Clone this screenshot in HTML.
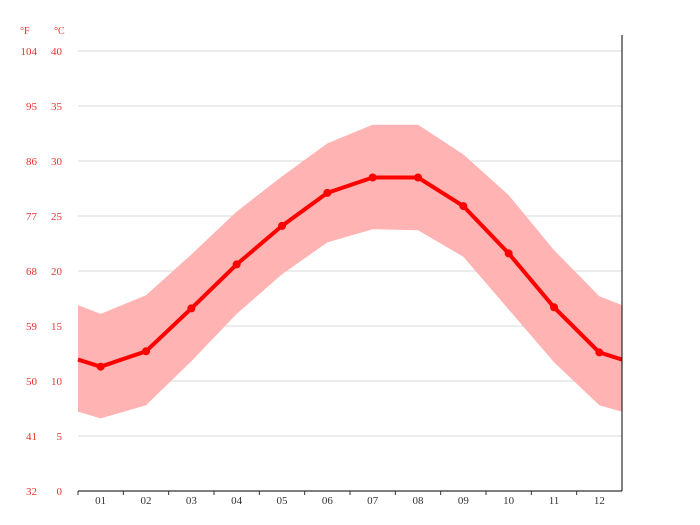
<!DOCTYPE html>
<html><head><meta charset="utf-8"><style>body{margin:0;background:#fff}svg{display:block}</style></head>
<body>
<svg id="c" width="700" height="525" xmlns="http://www.w3.org/2000/svg" font-family="'Liberation Serif', serif">
</svg>
<script>
const months=["01","02","03","04","05","06","07","08","09","10","11","12"];
const meanTemp=[11.3,12.7,16.6,20.6,24.1,27.1,28.5,28.5,25.9,21.6,16.7,12.6];
const maxTemp=[16.1,17.8,21.5,25.4,28.6,31.6,33.3,33.3,30.6,26.9,21.9,17.7];
const minTemp=[6.6,7.8,11.8,16.1,19.7,22.6,23.8,23.7,21.3,16.5,11.7,7.8];
const cTicks=[0,5,10,15,20,25,30,35,40];
const fTicks=[32,41,50,59,68,77,86,95,104];
const NS="http://www.w3.org/2000/svg",svg=document.getElementById('c');
const x0=78,x1=622,y0=491,pxC=11,step=(x1-x0)/12;
const X=i=>x0+step*(i+0.5),Y=v=>y0-v*pxC;
function mk(t,a,p){const e=document.createElementNS(NS,t);for(const k in a)e.setAttribute(k,a[k]);(p||svg).appendChild(e);return e;}
cTicks.forEach((c,i)=>{
 if(c>0){const g=mk('line',{x1:x0,x2:x1,y1:Y(c),y2:Y(c),stroke:'#d9d9d9','stroke-width':1});
 
 }
 const t=mk('text',{x:62,y:Y(c)+4,'text-anchor':'end','font-size':11,fill:'#e8322f'});t.textContent=c;
 
 
 const f=mk('text',{x:37,y:Y(c)+4,'text-anchor':'end','font-size':11,fill:'#e8322f'});f.textContent=fTicks[i];
 
 
});
const uf=mk('text',{x:20,y:34,'font-size':10,fill:'#e8322f'});uf.textContent='°F';


const uc=mk('text',{x:54,y:34,'font-size':10,fill:'#e8322f'});uc.textContent='°C';


function ext(arr){const e=(arr[0]+arr[11])/2;return [[x0,e]].concat(arr.map((v,i)=>[X(i),v])).concat([[x1,e]]);}
const hi=ext(maxTemp),lo=ext(minTemp),me=ext(meanTemp);
let d='M'+hi.map(p=>p[0]+','+Y(p[1])).join('L')+'L'+lo.slice().reverse().map(p=>p[0]+','+Y(p[1])).join('L')+'Z';
const band=mk('path',{d:d,fill:'#ffb3b3'});


const ln=mk('path',{d:'M'+me.map(p=>p[0]+','+Y(p[1])).join('L'),fill:'none',stroke:'#ff0000','stroke-width':4,'stroke-linejoin':'round'});


meanTemp.forEach((v,i)=>{const c=mk('circle',{cx:X(i),cy:Y(v),r:4,fill:'#ff0000'});
 
 });
const ax=mk('line',{x1:x0,x2:x1,y1:y0,y2:y0,stroke:'#555','stroke-width':1.5});


const rv=mk('line',{x1:x1,x2:x1,y1:35,y2:y0,stroke:'#000','stroke-width':1});


months.forEach((m,i)=>{
 const tk=mk('line',{x1:x0+step*i,x2:x0+step*i,y1:y0,y2:y0+4,stroke:'#333'});
 
 
 const t=mk('text',{x:X(i),y:504,'text-anchor':'middle','font-size':11,fill:'#333'});t.textContent=m;
 
 
});
</script>
</body></html>
